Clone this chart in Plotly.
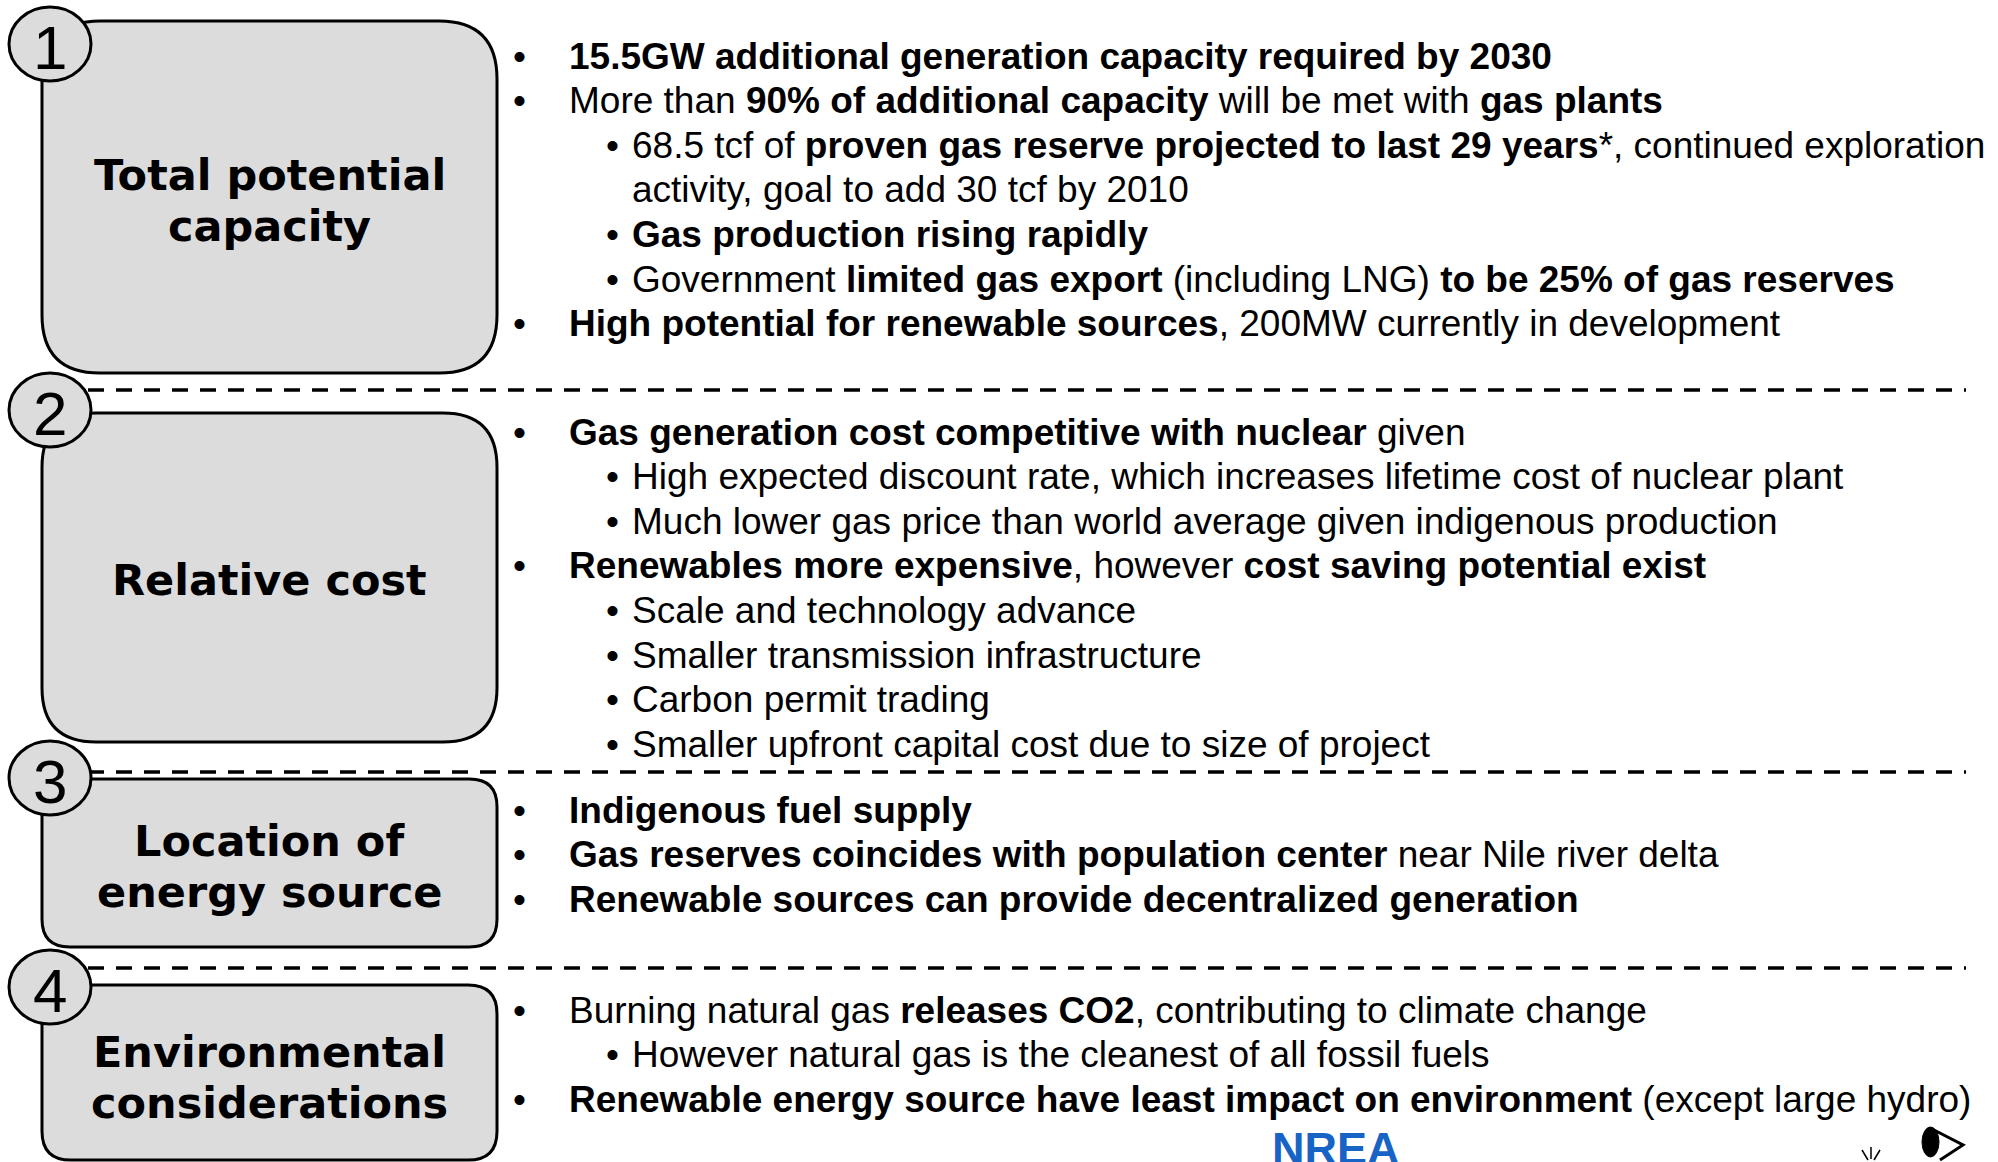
import plotly.graph_objects as go

# ---------------- data ----------------
section_numbers = ["1", "2", "3", "4"]
section_titles = [
    ["Total potential", "capacity"],
    ["Relative cost"],
    ["Location of", "energy source"],
    ["Environmental", "considerations"],
]
# level 0 = main bullet, 1 = sub bullet, 2 = continuation line (no bullet)
sec1_levels = [0, 0, 1, 2, 1, 1, 0]
sec1_lines = [
    "<b>15.5GW additional generation capacity required by 2030</b>",
    "More than <b>90% of additional capacity</b> will be met with <b>gas plants</b>",
    "68.5 tcf of <b>proven gas reserve projected to last 29 years</b>*, continued exploration",
    "activity, goal to add 30 tcf by 2010",
    "<b>Gas production rising rapidly</b>",
    "Government <b>limited gas export</b> (including LNG) <b>to be 25% of gas reserves</b>",
    "<b>High potential for renewable sources</b>, 200MW currently in development",
]
sec2_levels = [0, 1, 1, 0, 1, 1, 1, 1]
sec2_lines = [
    "<b>Gas generation cost competitive with nuclear</b> given",
    "High expected discount rate, which increases lifetime cost of nuclear plant",
    "Much lower gas price than world average given indigenous production",
    "<b>Renewables more expensive</b>, however <b>cost saving potential exist</b>",
    "Scale and technology advance",
    "Smaller transmission infrastructure",
    "Carbon permit trading",
    "Smaller upfront capital cost due to size of project",
]
sec3_levels = [0, 0, 0]
sec3_lines = [
    "<b>Indigenous fuel supply</b>",
    "<b>Gas reserves coincides with population center</b> near Nile river delta",
    "<b>Renewable sources can provide decentralized generation</b>",
]
sec4_levels = [0, 1, 0]
sec4_lines = [
    "Burning natural gas <b>releases CO2</b>, contributing to climate change",
    "However natural gas is the cleanest of all fossil fuels",
    "<b>Renewable energy source have least impact on environment</b> (except large hydro)",
]
logo_text = "NREA"

section_levels = [sec1_levels, sec2_levels, sec3_levels, sec4_levels]
section_lines = [sec1_lines, sec2_lines, sec3_lines, sec4_lines]

# ---------------- layout geometry (pixels) ----------------
W, H = 1998, 1162
box_x0, box_x1 = 42, 497
box_y = [(21, 373), (413, 742), (779, 947), (985, 1160)]
circle_cy = [44, 410, 778, 987]
circle_cx, circle_rx, circle_ry = 50, 41, 37
dash_y = [390, 772, 968]
dash_x0, dash_x1 = 88, 1966
first_line_y = [56, 432, 810, 1010]
line_step = 44.6
bullet0_x, text0_x = 519, 567
bullet1_x, text1_x = 612, 630
title_cy = [200, 580, 866, 1077]
title_step = 51

TEXT_FONT = "Liberation Sans, Arial, sans-serif"
TITLE_FONT = "DejaVu Sans, Verdana, sans-serif"
TEXT_SIZE = 37
TITLE_SIZE = 43
BOX_FILL = "#DCDCDC"

fig = go.Figure()
shapes = []
annotations = []


def rounded_rect(x0, y0, x1, y1, r):
    return (f"M {x0+r},{y0} L {x1-r},{y0} Q {x1},{y0} {x1},{y0+r} "
            f"L {x1},{y1-r} Q {x1},{y1} {x1-r},{y1} L {x0+r},{y1} "
            f"Q {x0},{y1} {x0},{y1-r} L {x0},{y0+r} Q {x0},{y0} {x0+r},{y0} Z")


for i, (y0, y1) in enumerate(box_y):
    r = min(y1 - y0, box_x1 - box_x0) * 0.165
    shapes.append(dict(type="path", path=rounded_rect(box_x0, y0, box_x1, y1, r),
                       fillcolor=BOX_FILL, line=dict(color="black", width=3),
                       xref="x", yref="y", layer="above"))

for yd in dash_y:
    shapes.append(dict(type="line", x0=dash_x0, x1=dash_x1, y0=yd, y1=yd,
                       line=dict(color="black", width=3.5, dash="16px,12px"),
                       xref="x", yref="y", layer="above"))

for i, cy in enumerate(circle_cy):
    shapes.append(dict(type="circle", x0=circle_cx - circle_rx, x1=circle_cx + circle_rx,
                       y0=cy - circle_ry, y1=cy + circle_ry,
                       fillcolor=BOX_FILL, line=dict(color="black", width=3),
                       xref="x", yref="y", layer="above"))
    annotations.append(dict(x=circle_cx, y=cy + 3, text=section_numbers[i], showarrow=False,
                            xanchor="center", yanchor="middle",
                            font=dict(family=TEXT_FONT, size=62, color="black")))

for i, title in enumerate(section_titles):
    n = len(title)
    for j, t in enumerate(title):
        y = title_cy[i] + (j - (n - 1) / 2) * title_step
        annotations.append(dict(x=(box_x0 + box_x1) / 2, y=y, text=f"<b>{t}</b>",
                                showarrow=False, xanchor="center", yanchor="middle",
                                font=dict(family=TITLE_FONT, size=TITLE_SIZE, color="black")))

for s in range(4):
    for k, (lvl, txt) in enumerate(zip(section_levels[s], section_lines[s])):
        y = first_line_y[s] + k * line_step
        if lvl == 0:
            annotations.append(dict(x=bullet0_x, y=y, text="•", showarrow=False,
                                    xanchor="center", yanchor="middle",
                                    font=dict(family=TEXT_FONT, size=TEXT_SIZE, color="black")))
            tx = text0_x
        else:
            if lvl == 1:
                annotations.append(dict(x=bullet1_x, y=y, text="•", showarrow=False,
                                        xanchor="center", yanchor="middle",
                                        font=dict(family=TEXT_FONT, size=TEXT_SIZE, color="black")))
            tx = text1_x
        annotations.append(dict(x=tx, y=y, text=txt, showarrow=False,
                                xanchor="left", yanchor="middle", align="left",
                                font=dict(family=TEXT_FONT, size=TEXT_SIZE, color="black")))

# logo (cut off at page bottom, as in the reference)
annotations.append(dict(x=1336, y=1121, text=f"<b>{logo_text}</b>", showarrow=False,
                        xanchor="center", yanchor="top",
                        font=dict(family="Liberation Sans, Arial, sans-serif",
                                  size=45, color="#1763C6")))
# small emblem at bottom right
shapes.append(dict(type="circle", x0=1922, x1=1939, y0=1127, y1=1157,
                   fillcolor="black", line=dict(color="black", width=1), xref="x", yref="y"))
shapes.append(dict(type="path", path="M 1934,1130 L 1963,1145 L 1940,1160",
                   line=dict(color="black", width=3), xref="x", yref="y"))
for (a, b, c, d) in [(1868, 1160, 1862, 1150), (1871, 1159, 1871, 1147), (1874, 1160, 1880, 1150)]:
    shapes.append(dict(type="line", x0=a, y0=b, x1=c, y1=d,
                       line=dict(color="black", width=1.5), xref="x", yref="y"))

fig.update_layout(
    width=W, height=H,
    margin=dict(l=0, r=0, t=0, b=0),
    paper_bgcolor="white", plot_bgcolor="white",
    xaxis=dict(range=[0, W], visible=False, fixedrange=True),
    yaxis=dict(range=[H, 0], visible=False, fixedrange=True),
    shapes=shapes, annotations=annotations, showlegend=False,
)
fig.write_html("out.html", config={"displayModeBar": False},
               post_script="document.body.style.margin='0';document.body.style.overflow='hidden';")
